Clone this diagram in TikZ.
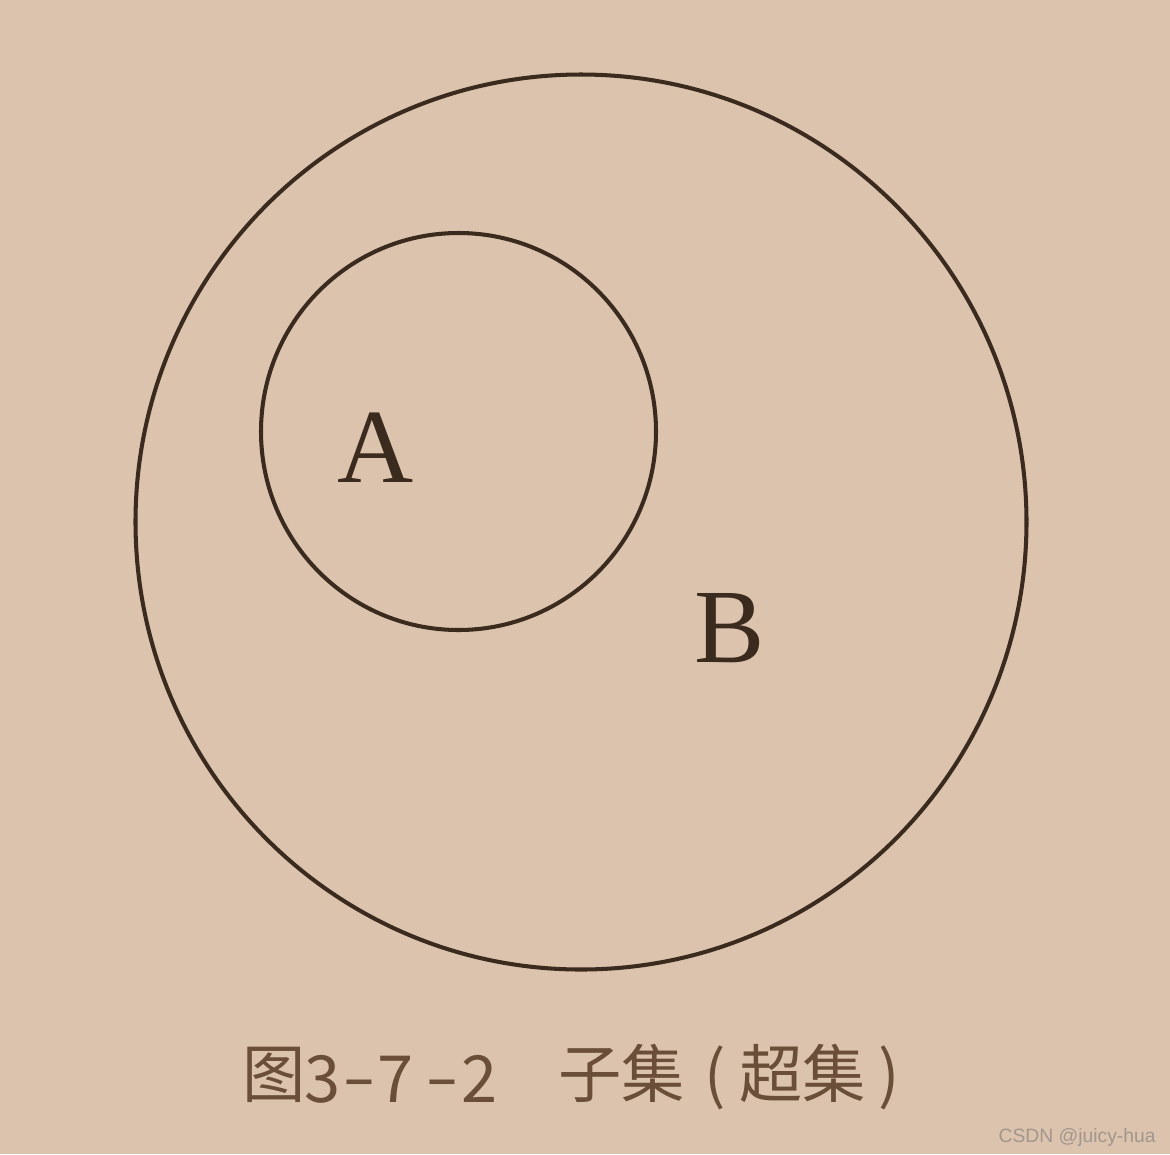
\documentclass[tikz,border=0pt]{standalone}
\usepackage{graphicx}
\usepackage{fontspec}
\setmainfont{Liberation Serif}
\newfontfamily\cjk{Noto Sans CJK SC}
\newfontfamily\markfont{Liberation Sans}
\definecolor{paper}{HTML}{DCC3AD}
\definecolor{ink}{HTML}{3B2A1E}
\definecolor{captionink}{HTML}{6A4E37}
\definecolor{markink}{HTML}{A2968D}
\newcommand{\widedash}{\scalebox{1.5}[1]{-}}
\tikzset{
	setline/.style={ink, line width=2.3pt},
	setname/.style={ink, font=\fontsize{60}{60}\selectfont, inner sep=0pt},
	capcjk/.style={captionink, anchor=base west, inner sep=0pt, font=\cjk\fontsize{36}{36}\selectfont},
	capnum/.style={captionink, anchor=base west, inner sep=0pt, font=\cjk\fontsize{37}{37}\selectfont},
	capdash/.style={capnum, anchor=base},
}
\begin{document}
\begin{tikzpicture}[x=0.02cm, y=-0.02cm]
		\fill[paper] (0,0) rectangle (1170,1154);
		\useasboundingbox (0,0) rectangle (1170,1154);
		
		\draw[setline] (581,522) ellipse [x radius=445.5, y radius=447.5];
		\draw[setline] (458.5,431.5) ellipse [x radius=197.5, y radius=198.5];
		
		\node[setname, anchor=base] (A) at (376,482) {A};
		\node[setname, anchor=base] (B) at (730,662) {B};
		
		% caption, piece by piece
		\node[capcjk] (fig) at (242,1097) {图};
		\node[capnum] (n1) at (304,1102) {3};
		\node[capdash] (d1) at (359,1100) {\widedash};
		\node[capnum] (n2) at (377,1102) {7};
		\node[capdash] (d2) at (442,1100) {\widedash};
		\node[capnum] (n3) at (461,1102) {2};
		\node[capcjk] (sub) at (558,1097) {子集};
		\node[capcjk] (lpar) at (704,1097) {(};
		\node[capcjk] (sup) at (739,1097) {超集};
		\node[capcjk] (rpar) at (878,1097) {)};
		\node[markink, anchor=base east, inner sep=0pt, font=\markfont\fontsize{11}{11}\selectfont] (mark) at (1156,1142) {CSDN @juicy-hua};
	\end{tikzpicture}
\end{document}
